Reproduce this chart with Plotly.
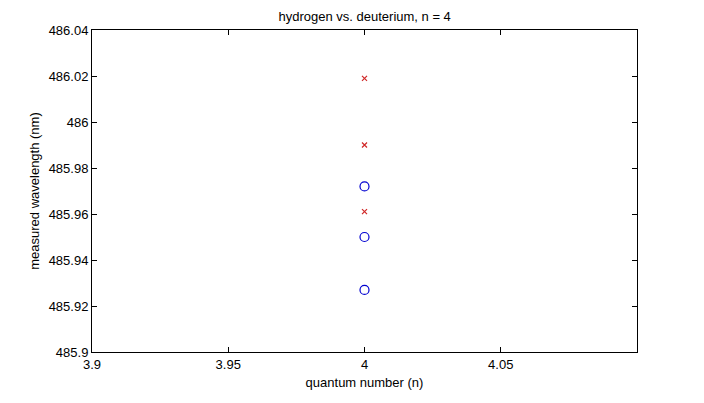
import plotly.graph_objects as go

n_hydrogen = [4, 4, 4]
wl_hydrogen = [485.972, 485.950, 485.927]
n_deuterium = [4, 4, 4]
wl_deuterium = [486.019, 485.990, 485.961]

x_ticks = [3.9, 3.95, 4, 4.05]
x_tick_labels = ["3.9", "3.95", "4", "4.05"]
y_ticks = [485.9, 485.92, 485.94, 485.96, 485.98, 486, 486.02, 486.04]
y_tick_labels = ["485.9", "485.92", "485.94", "485.96", "485.98", "486", "486.02", "486.04"]

font = dict(family="Liberation Sans, Arial, sans-serif", size=13, color="black")

fig = go.Figure()
fig.add_trace(go.Scatter(
    x=n_hydrogen, y=wl_hydrogen, mode="markers",
    marker=dict(symbol="circle-open", size=9, color="#0000d0", line=dict(width=1.2)),
    showlegend=False))
fig.add_trace(go.Scatter(
    x=n_deuterium, y=wl_deuterium, mode="markers",
    marker=dict(symbol="x-thin-open", size=5, color="#d02828", line=dict(width=1.2)),
    showlegend=False))

fig.update_layout(
    width=704, height=403,
    paper_bgcolor="white", plot_bgcolor="white",
    margin=dict(l=92, r=67, t=30, b=51),
    font=font,
    title=dict(text="hydrogen vs. deuterium, n = 4", x=0.518, xanchor="center",
               y=0.960, yanchor="middle", font=dict(size=13)),
    xaxis=dict(range=[3.9, 4.1], tickvals=x_ticks, ticktext=x_tick_labels,
               ticks="inside", ticklen=5, tickcolor="black", tickwidth=1,
               showline=True, linecolor="black", linewidth=1, mirror="allticks",
               showgrid=False, zeroline=False,
               title=dict(text="quantum number (n)", standoff=7, font=dict(size=13))),
    yaxis=dict(range=[485.9, 486.04], tickvals=y_ticks, ticktext=y_tick_labels,
               ticks="inside", ticklen=5, tickcolor="black", tickwidth=1,
               showline=True, linecolor="black", linewidth=1, mirror="allticks",
               showgrid=False, zeroline=False,
               title=dict(text="measured wavelength (nm)", standoff=6, font=dict(size=13))),
)

fig.write_html("out.html", config={"displayModeBar": False},
               post_script="document.body.style.margin='0';")
